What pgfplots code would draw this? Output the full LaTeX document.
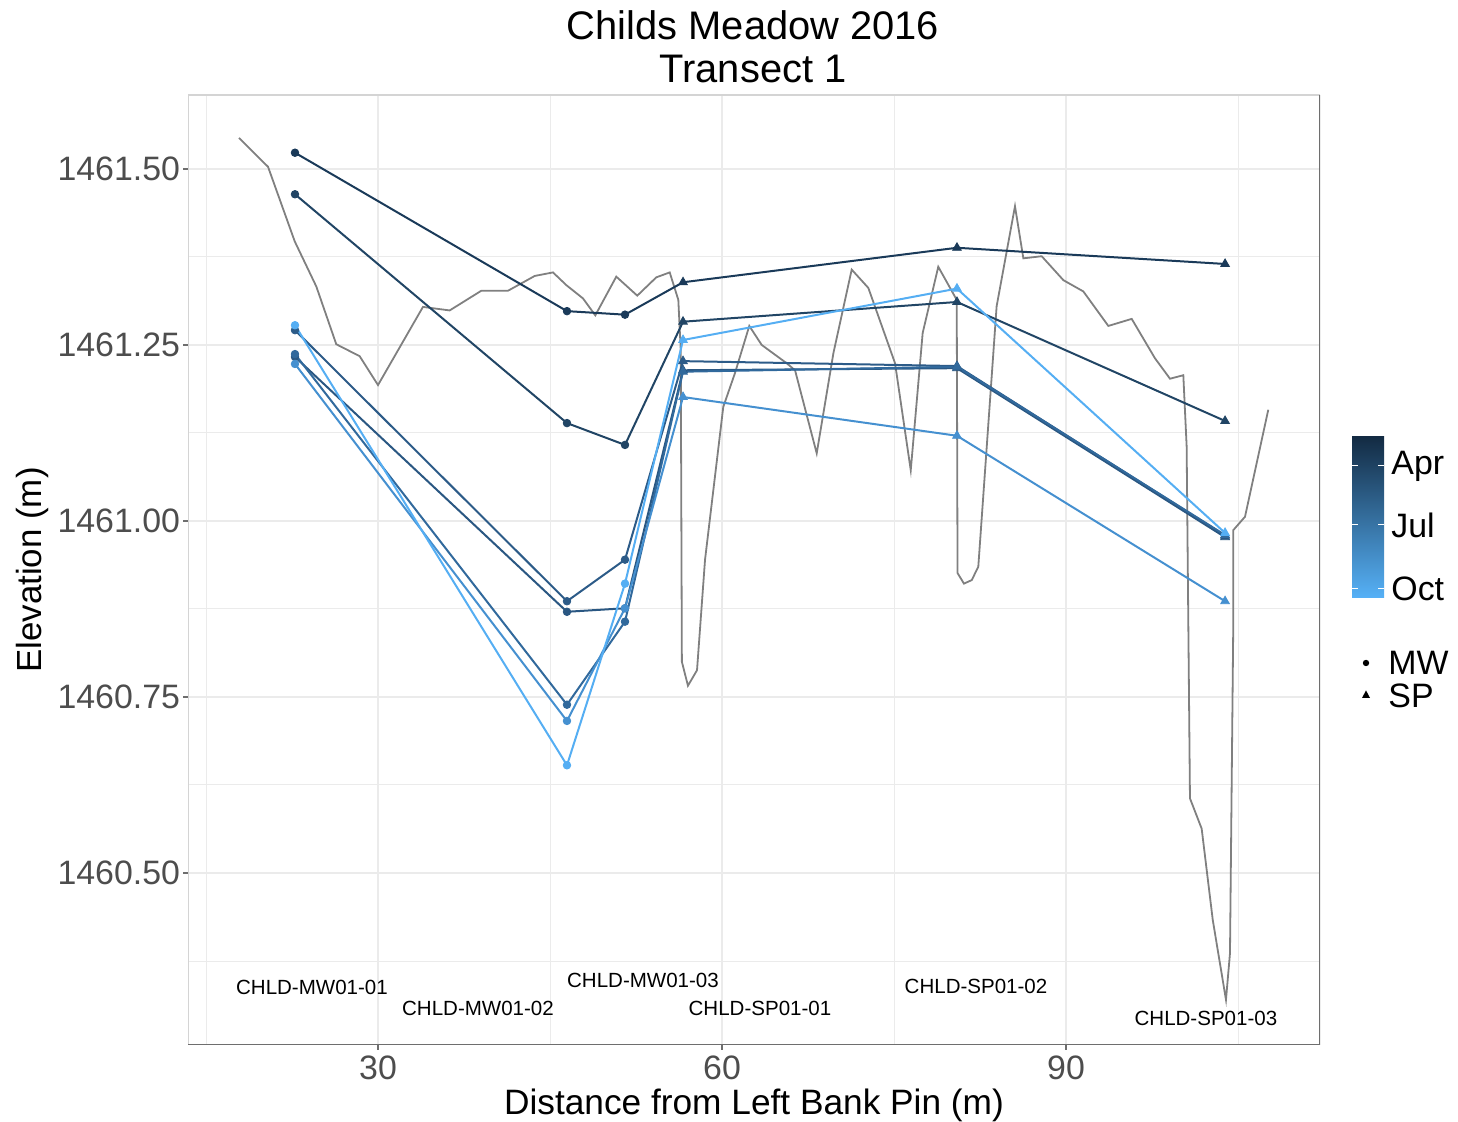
\documentclass[border=0pt]{standalone}
\usepackage{fontspec}
\setmainfont{Liberation Sans}
\usepackage{pgfplots}
\usepackage{pgfplotstable}
\pgfplotsset{compat=1.18}

\definecolor{gridc}{HTML}{EBEBEB}
\definecolor{ground}{HTML}{808080}
\definecolor{ticktext}{HTML}{4D4D4D}
\definecolor{frameLight}{HTML}{D4D4D4}
\definecolor{frameDark}{HTML}{6E6E6E}
\definecolor{dApr}{HTML}{132B43}
\definecolor{dOct}{HTML}{56B1F7}
% one colour per survey date, dark (spring) to light (autumn)
\definecolor{cA}{HTML}{1A3A59}
\definecolor{cB}{HTML}{214565}
\definecolor{cC}{HTML}{2C5B88}
\definecolor{cD}{HTML}{2A5782}
\definecolor{cE}{HTML}{31699C}
\definecolor{cF}{HTML}{4590D0}
\definecolor{cG}{HTML}{55AEF3}

% ground surface along the transect
\pgfplotstableread{
x y
17.88 1461.544
20.41 1461.503
22.74 1461.397
24.62 1461.333
26.36 1461.251
28.40 1461.234
30.00 1461.193
33.92 1461.304
36.25 1461.299
39.01 1461.327
41.34 1461.327
43.67 1461.348
45.26 1461.353
46.42 1461.335
47.88 1461.316
48.95 1461.292
50.78 1461.347
52.61 1461.320
54.27 1461.346
55.44 1461.353
56.19 1461.314
56.40 1461.243
56.50 1460.800
57.03 1460.766
57.82 1460.788
58.52 1460.945
60.11 1461.162
61.13 1461.210
62.38 1461.277
63.46 1461.250
65.64 1461.224
66.37 1461.214
68.26 1461.096
69.71 1461.238
71.31 1461.357
72.76 1461.331
75.09 1461.224
76.46 1461.072
77.50 1461.267
78.86 1461.361
80.47 1461.314
80.54 1460.926
81.10 1460.911
81.78 1460.916
82.35 1460.935
83.95 1461.305
85.55 1461.447
86.28 1461.373
87.88 1461.376
89.77 1461.342
91.51 1461.326
93.69 1461.277
95.73 1461.287
97.76 1461.231
99.07 1461.202
100.23 1461.207
100.52 1461.106
100.81 1460.606
101.83 1460.563
102.80 1460.433
103.95 1460.320
104.30 1460.386
104.59 1460.859
104.59 1460.987
105.61 1461.006
107.64 1461.158
}\groundtab

% water levels: MW01-01, MW01-02, MW01-03, SP01-01, SP01-02, SP01-03
\pgfplotstableread{
x y
22.76 1461.523
46.48 1461.298
51.54 1461.293
56.60 1461.339
80.49 1461.388
103.87 1461.365
}\serA
\pgfplotstableread{
x y
22.76 1461.464
46.48 1461.139
51.54 1461.108
56.60 1461.283
80.49 1461.311
103.87 1461.142
}\serB
\pgfplotstableread{
x y
22.76 1461.271
46.48 1460.886
51.54 1460.945
56.60 1461.227
80.49 1461.220
103.87 1460.979
}\serC
\pgfplotstableread{
x y
22.76 1461.233
46.48 1460.871
51.54 1460.876
56.60 1461.214
80.49 1461.217
103.87 1460.977
}\serD
\pgfplotstableread{
x y
22.76 1461.237
46.48 1460.739
51.54 1460.857
56.60 1461.212
80.49 1461.219
103.87 1460.980
}\serE
\pgfplotstableread{
x y
22.76 1461.223
46.48 1460.716
51.54 1460.876
56.60 1461.176
80.49 1461.121
103.87 1460.886
}\serF
\pgfplotstableread{
x y
22.76 1461.278
46.48 1460.653
51.54 1460.911
56.60 1461.257
80.49 1461.330
103.87 1460.983
}\serG

% line plus markers: circles for monitoring wells, triangles for piezometers
\newcommand{\wellseries}[2]{%
  \addplot[color=#1, line width=1bp, no markers] table {#2};
  \addplot[color=#1, only marks, mark=*, mark size=1.9bp,
    skip coords between index={3}{6}] table {#2};
  \addplot[color=#1, only marks, mark=triangle*, mark size=2.5bp,
    skip coords between index={0}{3}] table {#2};
}

\begin{document}
\begin{tikzpicture}
\begin{axis}[
  at={(94bp,38.5bp)}, anchor=south west,
  scale only axis, width=566bp, height=475bp,
  xmin=13.43, xmax=112.15,
  ymin=1460.2557, ymax=1461.605,
  xtick={30,60,90},
  ytick={1460.5,1460.75,1461,1461.25,1461.5},
  minor xtick={15,45,75,105},
  minor ytick={1460.375,1460.625,1460.875,1461.125,1461.375,1461.625},
  grid=both,
  major grid style={color=gridc, line width=0.9bp},
  minor grid style={color=gridc, line width=0.5bp},
  minor tick length=0pt,
  major tick length=2.5bp,
  tick align=outside,
  tick pos=left,
  tick style={color=frameDark, line width=0.6bp},
  axis line style={draw=none},
  /pgf/number format/assume math mode=true,
  ticklabel style={font=\fontsize{17}{20}\selectfont, text=ticktext},
  yticklabel style={xshift=2bp, /pgf/number format/.cd, fixed, fixed zerofill, precision=2, 1000 sep={}},
  xticklabel style={inner sep=0.5bp, yshift=-2.2bp, /pgf/number format/.cd, fixed, precision=0},
  scaled y ticks=false,
  clip=true,
]
\addplot[color=ground, line width=0.9bp, no markers] table {\groundtab};
\wellseries{cA}{\serA}
\wellseries{cB}{\serB}
\wellseries{cC}{\serC}
\wellseries{cD}{\serD}
\wellseries{cE}{\serE}
\wellseries{cF}{\serF}
\wellseries{cG}{\serG}

% well names
\begin{scope}[every node/.style={font=\fontsize{10.3}{12}\selectfont, text=black}]
\node at (axis cs:24.24,1460.337) {CHLD-MW01-01};
\node at (axis cs:38.72,1460.308) {CHLD-MW01-02};
\node at (axis cs:53.11,1460.348) {CHLD-MW01-03};
\node at (axis cs:63.31,1460.307) {CHLD-SP01-01};
\node at (axis cs:82.15,1460.339) {CHLD-SP01-02};
\node at (axis cs:102.2,1460.293) {CHLD-SP01-03};
\end{scope}

% panel frame
\draw[frameLight, line width=0.7bp] (rel axis cs:0,0) -- (rel axis cs:0,1) -- (rel axis cs:1,1);
\draw[frameDark, line width=0.9bp] (rel axis cs:0,0) -- (rel axis cs:1,0) -- (rel axis cs:1,1);
\end{axis}

% titles
\node[align=center, font=\fontsize{20}{21.5}\selectfont] at (376.5bp,537.5bp) {Childs Meadow 2016\\Transect 1};
\node[inner sep=0pt, font=\fontsize{17.7}{20}\selectfont] at (377bp,8.5bp) {Distance from Left Bank Pin (m)};
\node[font=\fontsize{17.5}{20}\selectfont, rotate=90] at (16bp,276bp) {Elevation (m)};

% colour bar for survey date
\shade[top color=dApr, bottom color=dOct] (676bp,262bp) rectangle (692bp,342.5bp);
\foreach \yy in {328,298.5,266.5} {
  \draw[white, line width=0.5bp] (676bp,\yy bp) -- (679bp,\yy bp);
  \draw[white, line width=0.5bp] (689bp,\yy bp) -- (692bp,\yy bp);
}
\begin{scope}[every node/.style={font=\fontsize{17}{20}\selectfont, anchor=west, inner sep=0pt}]
\node at (695.5bp,328bp) {Apr};
\node at (695.5bp,298.5bp) {Jul};
\node at (695.5bp,266.5bp) {Oct};
\node at (694bp,229.5bp) {MW};
\node at (694bp,213bp) {SP};
\end{scope}
\fill[black] (683bp,229.5bp) circle (1.6bp);
\fill[black] (681bp,212bp) -- (685bp,212bp) -- (683bp,215.8bp) -- cycle;

\pgfresetboundingbox
\path[use as bounding box] (0,0) rectangle (729bp,561bp);
\end{tikzpicture}
\end{document}
